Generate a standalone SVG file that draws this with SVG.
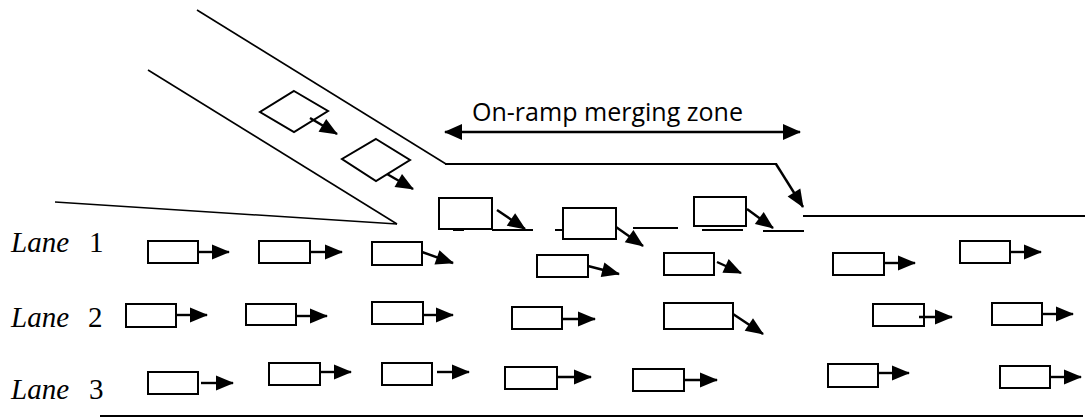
<svg xmlns="http://www.w3.org/2000/svg" width="1087" height="419" viewBox="0 0 1087 419">
<style>
.road{fill:none;stroke:#000;stroke-width:1.6}
.road2{fill:none;stroke:#000;stroke-width:2}
.car{fill:#fff;stroke:#000;stroke-width:2}
.arr{fill:none;stroke:#000;stroke-width:2.4;marker-end:url(#ah)}
.lbl{font-family:"Liberation Serif","Times New Roman",serif;font-size:29px;fill:#000}
.zone{font-family:"Open Sans","Noto Sans",sans-serif;font-size:25px;fill:#000}
</style>
<defs>
<marker id="ah" markerUnits="userSpaceOnUse" markerWidth="18" markerHeight="15" refX="17" refY="7.5" orient="auto" overflow="visible">
<path d="M0,0 L18,7.5 L0,15 z" fill="#000"/>
</marker>
<marker id="zh" markerUnits="userSpaceOnUse" markerWidth="18" markerHeight="16" refX="17" refY="8" orient="auto-start-reverse" overflow="visible">
<path d="M0,0 L18,8 L0,16 z" fill="#000"/>
</marker>
</defs>
<rect width="1087" height="419" fill="#fff"/>
<g id="road">
<line class="road" x1="197" y1="10" x2="446" y2="164"/>
<line class="road2" x1="445" y1="164" x2="777" y2="164"/>
<line class="road" x1="148" y1="70" x2="397" y2="224"/>
<line class="road" x1="55" y1="202" x2="397" y2="224"/>
<line class="road2" x1="803" y1="216" x2="1085" y2="216"/>
<line class="road2" x1="100" y1="416" x2="1083" y2="416"/>
<line class="road2" x1="453" y1="230" x2="464" y2="230" stroke-width="3"/>
<line class="road2" x1="492" y1="230" x2="533" y2="230"/>
<line class="road2" x1="555" y1="230" x2="597" y2="230"/>
<line class="road2" x1="633" y1="228" x2="678" y2="228"/>
<line class="road2" x1="702" y1="230" x2="743" y2="230"/>
<line class="road2" x1="763" y1="231" x2="804" y2="231"/>
</g>
<g id="zone-label">
<line x1="445" y1="132" x2="800" y2="132" stroke="#000" stroke-width="2.5" marker-start="url(#zh)" marker-end="url(#zh)"/>
<text class="zone" x="472" y="121" textLength="271" lengthAdjust="spacingAndGlyphs">On-ramp merging zone</text>
</g>
<g id="lane-labels">
<text class="lbl" x="11" y="252"><tspan font-style="italic">Lane</tspan><tspan x="89">1</tspan></text>
<text class="lbl" x="11" y="327"><tspan font-style="italic">Lane</tspan><tspan x="88">2</tspan></text>
<text class="lbl" x="11" y="399"><tspan font-style="italic">Lane</tspan><tspan x="89">3</tspan></text>
</g>
<g id="ramp-car-1"><polygon class="car" points="294,91 328,111 294,132 260,112"/></g>
<g id="ramp-car-2"><polygon class="car" points="376,139 410,160 376,181 342,159"/></g>
<g id="merge-car-1"><rect class="car" x="439" y="198" width="53" height="31"/></g>
<g id="merge-car-2"><rect class="car" x="563" y="208" width="53" height="31"/></g>
<g id="merge-car-3"><rect class="car" x="694" y="197" width="52" height="29"/></g>
<g id="l1-car-1"><rect class="car" x="148" y="241" width="50" height="22"/></g>
<g id="l1-car-2"><rect class="car" x="259" y="241" width="51" height="22"/></g>
<g id="l1-car-3"><rect class="car" x="372" y="242" width="50" height="23"/></g>
<g id="l1-car-4"><rect class="car" x="537" y="255" width="51" height="22"/></g>
<g id="l1-car-5"><rect class="car" x="664" y="253" width="50" height="22"/></g>
<g id="l1-car-6"><rect class="car" x="833" y="253" width="51" height="22"/></g>
<g id="l1-car-7"><rect class="car" x="960" y="241" width="50" height="22"/></g>
<g id="l2-car-1"><rect class="car" x="126" y="304" width="50" height="23"/></g>
<g id="l2-car-2"><rect class="car" x="246" y="304" width="50" height="21"/></g>
<g id="l2-car-3"><rect class="car" x="372" y="302" width="51" height="22"/></g>
<g id="l2-car-4"><rect class="car" x="512" y="307" width="50" height="22"/></g>
<g id="l2-car-5"><rect class="car" x="664" y="303" width="69" height="26"/></g>
<g id="l2-car-6"><rect class="car" x="873" y="304" width="51" height="22"/></g>
<g id="l2-car-7"><rect class="car" x="992" y="303" width="50" height="22"/></g>
<g id="l3-car-1"><rect class="car" x="148" y="372" width="50" height="22"/></g>
<g id="l3-car-2"><rect class="car" x="269" y="363" width="51" height="22"/></g>
<g id="l3-car-3"><rect class="car" x="382" y="363" width="50" height="22"/></g>
<g id="l3-car-4"><rect class="car" x="505" y="367" width="52" height="22"/></g>
<g id="l3-car-5"><rect class="car" x="633" y="369" width="51" height="22"/></g>
<g id="l3-car-6"><rect class="car" x="828" y="364" width="50" height="23"/></g>
<g id="l3-car-7"><rect class="car" x="1000" y="366" width="50" height="22"/></g>
<g id="connectors">
<line class="arr" x1="776" y1="164" x2="803" y2="207"/>
<line class="arr" x1="310" y1="118" x2="337" y2="134"/>
<line class="arr" x1="387" y1="174" x2="413" y2="189"/>
<line class="arr" x1="497" y1="210" x2="525" y2="229"/>
<line class="arr" x1="616" y1="227" x2="643" y2="246"/>
<line class="arr" x1="747" y1="209" x2="773" y2="228"/>
<line class="arr" x1="198" y1="252" x2="229" y2="252"/>
<line class="arr" x1="310" y1="252" x2="342" y2="252"/>
<line class="arr" x1="422" y1="252" x2="453" y2="263"/>
<line class="arr" x1="588" y1="266" x2="619" y2="274"/>
<line class="arr" x1="717" y1="262" x2="741" y2="273"/>
<line class="arr" x1="884" y1="263" x2="915" y2="263"/>
<line class="arr" x1="1010" y1="252" x2="1041" y2="252"/>
<line class="arr" x1="176" y1="315" x2="207" y2="315"/>
<line class="arr" x1="296" y1="316" x2="327" y2="316"/>
<line class="arr" x1="423" y1="315" x2="453" y2="315"/>
<line class="arr" x1="562" y1="319" x2="595" y2="319"/>
<line class="arr" x1="733" y1="314" x2="763" y2="334"/>
<line class="arr" x1="919" y1="317" x2="952" y2="317"/>
<line class="arr" x1="1042" y1="314" x2="1073" y2="314"/>
<line class="arr" x1="201" y1="383" x2="233" y2="383"/>
<line class="arr" x1="320" y1="372" x2="351" y2="372"/>
<line class="arr" x1="437" y1="372" x2="469" y2="372"/>
<line class="arr" x1="557" y1="377" x2="591" y2="377"/>
<line class="arr" x1="684" y1="380" x2="717" y2="380"/>
<line class="arr" x1="878" y1="373" x2="909" y2="373"/>
<line class="arr" x1="1050" y1="377" x2="1081" y2="377"/>
</g>
</svg>
